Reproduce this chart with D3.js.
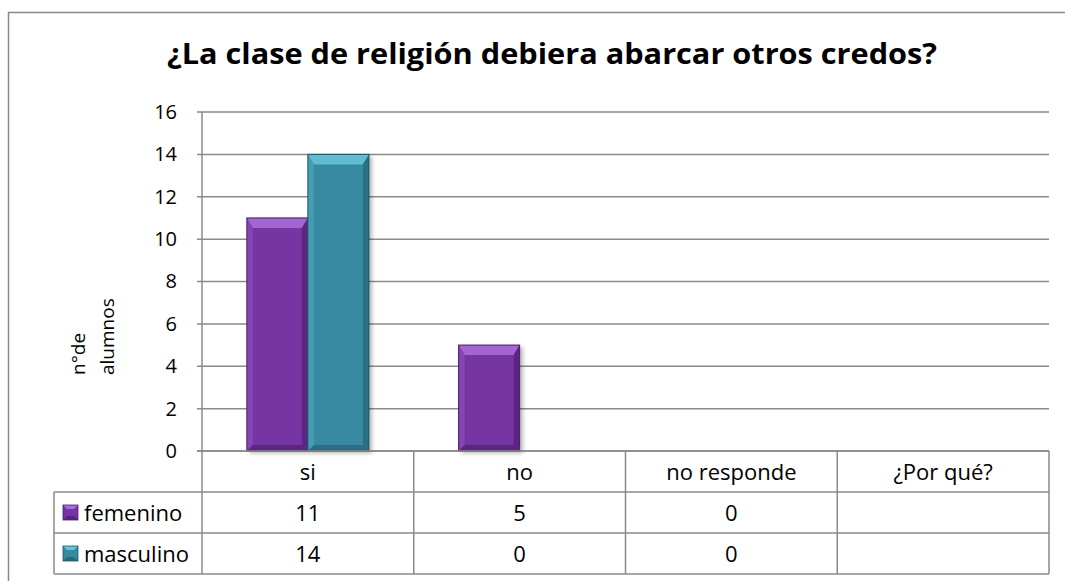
<!DOCTYPE html>
<html>
  <head>
    <meta charset="utf-8">
    <title>Clase de religión</title>
    <script src="https://cdnjs.cloudflare.com/ajax/libs/d3/7.8.5/d3.min.js"></script>
    <style>
      body { margin: 0; background: #fff; }
      text { font-family: "Open Sans", "DejaVu Sans", sans-serif; fill: #000; }
      .grid line { stroke: #8a8a8a; stroke-width: 1.5; }
      .tbl { stroke: #8a8a8a; stroke-width: 1.5; }
    </style>
  </head>
  <body>
    <svg id="chart" width="1065" height="581"></svg>
    <script>
      // chart data
      var categories = ["si", "no", "no responde", "¿Por qué?"];
      var seriesNames = ["femenino", "masculino"];
      var femenino = [11, 5, 0, null];
      var masculino = [14, 0, 0, null];
      var yTicks = [0, 2, 4, 6, 8, 10, 12, 14, 16];
      var title = "¿La clase de religión debiera abarcar otros credos?";

      var seriesValues = { femenino: femenino, masculino: masculino };
      var colors = {
        femenino: { body: "#7634a3", light: "#a96ed8", mid: "#8a48b8", dark: "#57237c", edge: "#4b1d6c" },
        masculino: { body: "#378aa2", light: "#66c4dc", mid: "#48a0b8", dark: "#286a7e", edge: "#1f5565" }
      };

      // page elements
      var margin = { left: 202, right: 1049, top: 112, bottom: 451 };
      var rowH = 41;
      var chart = d3.select("#chart");

      var defs = chart.append("defs");
      defs.append("filter")
          .attr("id", "shadow")
          .attr("x", "-20%").attr("y", "-10%")
          .attr("width", "150%").attr("height", "130%")
        .append("feDropShadow")
          .attr("dx", 3).attr("dy", 2)
          .attr("stdDeviation", 2)
          .attr("flood-color", "#000")
          .attr("flood-opacity", 0.3);

      // scales
      var x = d3.scaleBand()
        .domain(categories)
        .range([margin.left, margin.right]);
      var xSub = d3.scaleBand()
        .domain(seriesNames)
        .range([-61, 61]);
      var y = d3.scaleLinear()
        .domain([0, 16])
        .range([margin.bottom, margin.top]);

      // outer frame
      chart.append("rect")
          .attr("x", 8.5).attr("y", 12.5)
          .attr("width", 1100).attr("height", 620)
          .attr("fill", "none")
          .attr("stroke", "#888")
          .attr("stroke-width", 1.5);

      // title
      chart.append("text")
          .attr("x", 552).attr("y", 64)
          .attr("text-anchor", "middle")
          .attr("textLength", 770)
          .attr("lengthAdjust", "spacingAndGlyphs")
          .style("font-size", "29px")
          .style("font-weight", "bold")
          .text(title);

      // gridlines + y axis
      var yAxis = d3.axisLeft(y)
        .tickValues(yTicks)
        .tickSize(0)
        .tickPadding(25);
      var yAxisGroup = chart.append("g")
          .attr("transform", "translate(" + margin.left + ",0)")
          .call(yAxis);
      yAxisGroup.select(".domain").remove();
      yAxisGroup.selectAll("text")
          .style("font-size", "20px")
          .style("font-family", "'Open Sans', sans-serif");

      chart.append("g")
          .attr("class", "grid")
        .selectAll("line")
        .data(yTicks)
        .join("line")
          .attr("x1", margin.left - 5)
          .attr("x2", margin.right)
          .attr("y1", function(d) { return y(d); })
          .attr("y2", function(d) { return y(d); });

      // y axis title
      chart.append("text")
          .attr("transform", "translate(85,375) rotate(-90)")
          .style("font-size", "19px")
          .text("n°de");
      chart.append("text")
          .attr("transform", "translate(114,375) rotate(-90)")
          .style("font-size", "19px")
          .text("alumnos");

      // bars with bevel
      function bevelBar(g, x0, x1, y0, y1, c, bt, bs) {
        g.append("rect")
            .attr("x", x0).attr("y", y0)
            .attr("width", x1 - x0).attr("height", y1 - y0)
            .attr("fill", c.body)
            .attr("filter", "url(#shadow)");
        var pts = [
          [[x0, y0], [x1, y0], [x1 - bs, y0 + bt], [x0 + bs, y0 + bt], c.light],
          [[x0, y0], [x0 + bs, y0 + bt], [x0 + bs, y1 - bs], [x0, y1], c.mid],
          [[x1, y0], [x1 - bs, y0 + bt], [x1 - bs, y1 - bs], [x1, y1], c.dark],
          [[x0, y1], [x0 + bs, y1 - bs], [x1 - bs, y1 - bs], [x1, y1], c.dark]
        ];
        g.selectAll(null)
          .data(pts)
          .join("polygon")
            .attr("points", function(d) { return d.slice(0, 4).join(" "); })
            .attr("fill", function(d) { return d[4]; })
            .attr("opacity", 0.85);
        g.append("rect")
            .attr("x", x0).attr("y", y0)
            .attr("width", x1 - x0).attr("height", y1 - y0)
            .attr("fill", "none")
            .attr("stroke", c.edge)
            .attr("stroke-width", 1);
      }

      var barGroup = chart.append("g");
      seriesNames.forEach(function(s) {
        seriesValues[s].forEach(function(v, i) {
          if (!v) return;
          var cx = x(categories[i]) + x.bandwidth() / 2;
          var x0 = cx + xSub(s);
          bevelBar(barGroup.append("g"), x0, x0 + xSub.bandwidth(), y(v), y(0), colors[s], 10, 6);
        });
      });

      // data table
      var tableTop = margin.bottom;
      var tableBottom = tableTop + rowH * 3;
      var textOff = 29;
      var tbl = chart.append("g");
      // horizontal lines
      tbl.append("line").attr("class", "tbl")
          .attr("x1", margin.left - 5).attr("x2", margin.right)
          .attr("y1", tableTop).attr("y2", tableTop);
      [1, 2, 3].forEach(function(r) {
        tbl.append("line").attr("class", "tbl")
            .attr("x1", 54).attr("x2", margin.right)
            .attr("y1", tableTop + rowH * r).attr("y2", tableTop + rowH * r);
      });
      // vertical lines
      tbl.append("line").attr("class", "tbl")
          .attr("x1", margin.left).attr("x2", margin.left)
          .attr("y1", margin.top).attr("y2", tableBottom);
      tbl.append("line").attr("class", "tbl")
          .attr("x1", 54).attr("x2", 54)
          .attr("y1", tableTop + rowH).attr("y2", tableBottom);
      categories.forEach(function(c) {
        var xr = x(c) + x.bandwidth();
        tbl.append("line").attr("class", "tbl")
            .attr("x1", xr).attr("x2", xr)
            .attr("y1", tableTop).attr("y2", tableBottom);
      });
      // header labels
      tbl.selectAll(".hdr")
        .data(categories)
        .join("text")
          .attr("class", "hdr")
          .attr("x", function(d) { return x(d) + x.bandwidth() / 2; })
          .attr("y", tableTop + textOff)
          .attr("text-anchor", "middle")
          .style("font-size", "22px")
          .text(function(d) { return d; });
      // series rows
      seriesNames.forEach(function(s, r) {
        var rowY = tableTop + rowH * (r + 1);
        var c = colors[s];
        var k = tbl.append("g");
        bevelKey(k, 63, rowY + 13, 15, c);
        tbl.append("text")
            .attr("x", 84)
            .attr("y", rowY + textOff)
            .style("font-size", "22px")
            .text(s);
        tbl.selectAll(null)
          .data(seriesValues[s])
          .join("text")
            .attr("x", function(d, i) { return x(categories[i]) + x.bandwidth() / 2; })
            .attr("y", rowY + textOff)
            .attr("text-anchor", "middle")
            .style("font-size", "22px")
            .text(function(d) { return d === null ? "" : d; });
      });

      function bevelKey(g, x0, y0, size, c) {
        var x1 = x0 + size, y1 = y0 + size, b = 4;
        g.append("rect")
            .attr("x", x0).attr("y", y0)
            .attr("width", size).attr("height", size)
            .attr("fill", c.body);
        g.append("polygon")
            .attr("points", [[x0, y0], [x1, y0], [x1 - b, y0 + b], [x0 + b, y0 + b]].join(" "))
            .attr("fill", c.light);
        g.append("polygon")
            .attr("points", [[x0, y1], [x0 + b, y1 - b], [x1 - b, y1 - b], [x1, y1]].join(" "))
            .attr("fill", c.dark);
        g.append("rect")
            .attr("x", x0).attr("y", y0)
            .attr("width", size).attr("height", size)
            .attr("fill", "none")
            .attr("stroke", c.edge)
            .attr("stroke-width", 0.8);
      }
    </script>
  </body>
</html>
